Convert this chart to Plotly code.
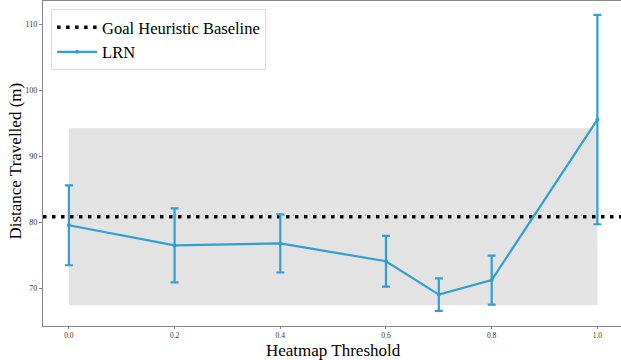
import plotly.graph_objects as go

# Data
thresholds = [0.0, 0.2, 0.4, 0.6, 0.7, 0.8, 1.0]
lrn_mean = [79.55, 76.5, 76.8, 74.1, 69.05, 71.25, 95.55]
lrn_err = [6.05, 5.6, 4.4, 3.85, 2.45, 3.7, 15.85]
baseline_mean = 80.85
baseline_std = 13.4
x_range = [-0.049, 1.0447]
y_range = [64.3, 113.5]

BLUE = "#2f9fd4"
FONT = "Liberation Serif"

fig = go.Figure()

# shaded baseline band
fig.add_shape(type="rect", xref="x", yref="y",
              x0=min(thresholds), x1=max(thresholds),
              y0=baseline_mean - baseline_std, y1=baseline_mean + baseline_std,
              fillcolor="#e3e3e3", line=dict(width=0), layer="below")

fig.add_trace(go.Scatter(
    x=x_range, y=[baseline_mean, baseline_mean], mode="lines",
    name="Goal Heuristic Baseline",
    line=dict(color="black", width=3.5, dash="3.5px,5.5px"),
))

fig.add_trace(go.Scatter(
    x=thresholds, y=lrn_mean, mode="lines+markers", name="LRN",
    line=dict(color=BLUE, width=2.2),
    marker=dict(color=BLUE, size=4),
    error_y=dict(type="data", array=lrn_err, visible=True, color=BLUE,
                 thickness=2.2, width=4),
))

fig.update_layout(
    width=621, height=360,
    margin=dict(l=43, r=0, t=1, b=34),
    paper_bgcolor="white", plot_bgcolor="white",
    font=dict(family=FONT, color="black"),
    showlegend=True,
    legend=dict(x=0.014, y=0.975, xanchor="left", yanchor="top",
                bgcolor="white", bordercolor="#dddddd", borderwidth=1,
                font=dict(size=16.5, family=FONT, color="black"), tracegroupgap=0,
                itemwidth=40),
    annotations=[
        dict(text="Heatmap Threshold", xref="paper", yref="paper",
             x=0.503, y=-0.074, xanchor="center", yanchor="middle",
             showarrow=False, font=dict(size=17, family=FONT, color="black")),
        dict(text="Distance Travelled (m)", xref="paper", yref="paper",
             x=-0.0467, y=0.506, xanchor="center", yanchor="middle", textangle=-90,
             showarrow=False, font=dict(size=17, family=FONT, color="black")),
    ],
)

fig.update_xaxes(
    range=x_range, showgrid=False, zeroline=False, automargin=False,
    showline=True, linecolor="#888888", linewidth=1.2, mirror=True,
    ticks="outside", ticklen=2, tickcolor="#888888",
    tickvals=[0.0, 0.2, 0.4, 0.6, 0.8, 1.0],
    ticktext=["0.0", "0.2", "0.4", "0.6", "0.8", "1.0"],
    tickfont=dict(size=7.5, family=FONT, color="#333333"),
)
fig.update_yaxes(
    range=y_range, showgrid=False, zeroline=False, automargin=False,
    showline=True, linecolor="#888888", linewidth=1.2,
    ticks="outside", ticklen=3, tickcolor="#888888",
    tickvals=[70, 80, 90, 100, 110],
    tickfont=dict(size=8, family=FONT, color="#333333"),
)

fig.write_html("out.html", config={"displayModeBar": False},
               post_script="document.body.style.margin='0';document.body.style.overflow='hidden';")
